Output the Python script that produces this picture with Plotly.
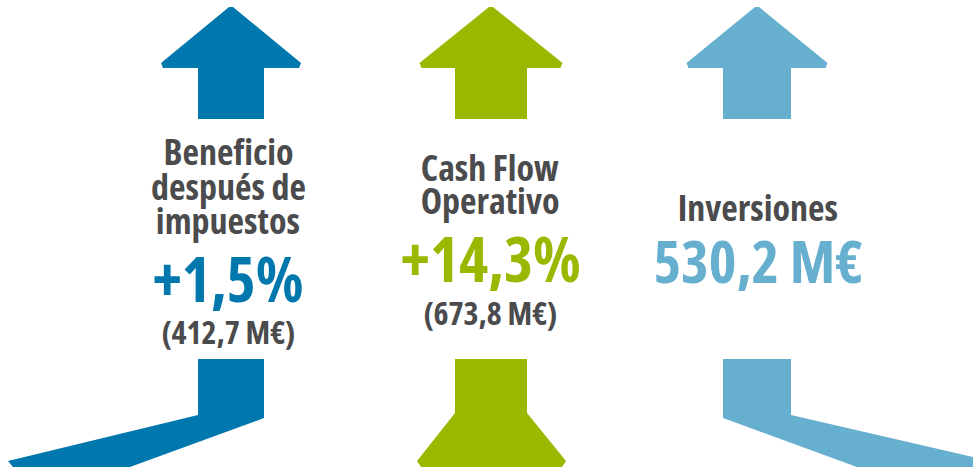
import plotly.graph_objects as go

# ---- data ----
titles = [["Beneficio", "después de", "impuestos"], ["Cash Flow", "Operativo"], ["Inversiones"]]
headline = ["+1,5%", "+14,3%", "530,2 M€"]
subvalue = ["(412,7 M€)", "(673,8 M€)", ""]
colors = ["#0077AD", "#9BB800", "#66AFCF"]

# ---- layout geometry ----
W, H = 973, 470
centers = [231, 491, 757]
text_x = [228, 490, 758]
head_half = [70, 71.5, 70.5]
shaft_half = [33, 36, 34]
title_y = [[151, 186, 220], [167, 200], [207]]
head_y = [278, 258, 260]
head_size = [62, 62, 59]
sub_y = [331, 312, None]
TEXT = "#4B4B4D"
FONT = "Open Sans"

fig = go.Figure()
fig.add_trace(go.Scatter(x=[0, W], y=[0, H], mode="markers", marker=dict(opacity=0), hoverinfo="skip", showlegend=False))

shapes = []
def poly(pts, color):
    d = "M " + " L ".join(f"{x},{y}" for x, y in pts) + " Z"
    shapes.append(dict(type="path", path=d, xref="x", yref="y", fillcolor=color, line=dict(width=0), layer="below"))

for i, c in enumerate(centers):
    hh, sh, col = head_half[i], shaft_half[i], colors[i]
    poly([(c - 2, 7), (c + 2, 7), (c + hh, 63), (c + hh - 2, 68), (c + sh, 68), (c + sh, 119),
          (c - sh, 119), (c - sh, 68), (c - hh + 2, 68), (c - hh, 63)], col)

# bottom pieces
c, sh = centers[0], shaft_half[0]
poly([(c - sh, 359), (c + sh, 359), (c + sh, 418), (130, 467), (13, 467), (8, 461), (c - sh, 415)], colors[0])
c, sh = centers[1], shaft_half[1]
poly([(c - sh, 359), (c + sh, 359), (c + sh, 413), (566, 461), (562, 467), (421, 467), (417, 461), (c - sh, 413)], colors[1])
c, sh = centers[2], shaft_half[2]
poly([(c - sh, 359), (c + sh, 359), (c + sh, 415), (W, 457), (W, 467), (857, 467), (c - sh, 418)], colors[2])

ann = []
for i, c in enumerate(text_x):
    for line, y in zip(titles[i], title_y[i]):
        ann.append(dict(x=c, y=y, text=line, showarrow=False, xref="x", yref="y",
                        xanchor="center", yanchor="middle", font=dict(family=FONT, size=36, weight=700, color=TEXT)))
    ann.append(dict(x=c, y=head_y[i], text=headline[i], showarrow=False, xref="x", yref="y",
                    xanchor="center", yanchor="middle", font=dict(family=FONT, size=head_size[i], weight=700, color=colors[i])))
    if subvalue[i]:
        ann.append(dict(x=c, y=sub_y[i], text=subvalue[i], showarrow=False, xref="x", yref="y",
                        xanchor="center", yanchor="middle", font=dict(family=FONT, size=32, weight=700, color=TEXT)))

fig.update_layout(
    width=W, height=H, margin=dict(l=0, r=0, t=0, b=0),
    paper_bgcolor="white", plot_bgcolor="white",
    xaxis=dict(range=[0, W], visible=False, fixedrange=True),
    yaxis=dict(range=[H, 0], visible=False, fixedrange=True),
    shapes=shapes, annotations=ann, showlegend=False,
)
js = """
document.body.style.margin='0';
var s=document.createElement('style');
s.textContent='.annotation-text{font-stretch:75%;}';
document.head.appendChild(s);
"""
fig.write_html("out.html", post_script=js, config={"displayModeBar": False})
